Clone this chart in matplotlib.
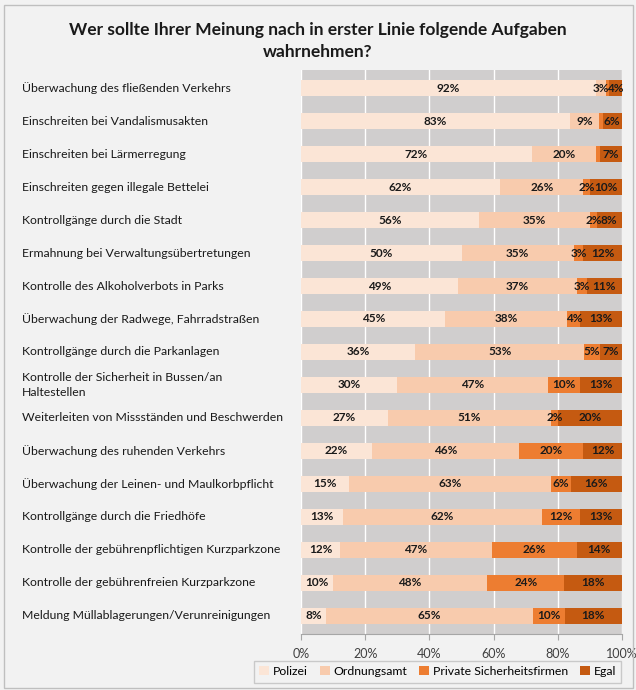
import matplotlib
matplotlib.use("Agg")
import matplotlib.pyplot as plt
import matplotlib.transforms as mtransforms
import numpy as np
from matplotlib.patches import Rectangle

plt.rcParams['font.family'] = ['Lato', 'DejaVu Sans']

categories = [
    "Überwachung des fließenden Verkehrs",
    "Einschreiten bei Vandalismusakten",
    "Einschreiten bei Lärmerregung",
    "Einschreiten gegen illegale Bettelei",
    "Kontrollgänge durch die Stadt",
    "Ermahnung bei Verwaltungsübertretungen",
    "Kontrolle des Alkoholverbots in Parks",
    "Überwachung der Radwege, Fahrradstraßen",
    "Kontrollgänge durch die Parkanlagen",
    "Kontrolle der Sicherheit in Bussen/an\nHaltestellen",
    "Weiterleiten von Missständen und Beschwerden",
    "Überwachung des ruhenden Verkehrs",
    "Überwachung der Leinen- und Maulkorbpflicht",
    "Kontrollgänge durch die Friedhöfe",
    "Kontrolle der gebührenpflichtigen Kurzparkzone",
    "Kontrolle der gebührenfreien Kurzparkzone",
    "Meldung Müllablagerungen/Verunreinigungen",
]
polizei = [92, 83, 72, 62, 56, 50, 49, 45, 36, 30, 27, 22, 15, 13, 12, 10, 8]
ordnungsamt = [3, 9, 20, 26, 35, 35, 37, 38, 53, 47, 51, 46, 63, 62, 47, 48, 65]
private = [1, 1, 1, 2, 2, 3, 3, 4, 5, 10, 2, 20, 6, 12, 26, 24, 10]
egal = [4, 6, 7, 10, 8, 12, 11, 13, 7, 13, 20, 12, 16, 13, 14, 18, 18]

series = [("Polizei", polizei, "#FBE5D6"),
          ("Ordnungsamt", ordnungsamt, "#F8CBAD"),
          ("Private Sicherheitsfirmen", private, "#ED7D31"),
          ("Egal", egal, "#C55A11")]

data = np.array([s[1] for s in series], dtype=float)
shares = data / data.sum(axis=0) * 100   # 100% stacked

fig = plt.figure(figsize=(6.36, 6.9), dpi=100, facecolor="#F2F2F2")
fig.patches.append(Rectangle((0.006, 0.003), 0.99, 0.99, transform=fig.transFigure,
                             fill=False, edgecolor="#BFBFBF", linewidth=1))
ax = fig.add_axes([0.4733, 0.0812, 0.5047, 0.8174])
ax.set_facecolor("#D0CECE")

y = np.arange(len(categories))
left = np.zeros(len(categories))
for (name, vals, color), share in zip(series, shares):
    ax.barh(y, share, left=left, height=0.5, color=color, label=name, zorder=2)
    for yi, l, s, v in zip(y, left, share, vals):
        if v >= 2:
            ax.text(l + s / 2, yi, f"{v}%", ha="center", va="center",
                    fontsize=8.5, fontweight="bold", color="#1a1a1a", zorder=3)
    left += share

ax.set_xlim(0, 100)
ax.set_ylim(len(categories) - 0.45, -0.55)
ax.set_xticks(range(0, 101, 20))
ax.set_xticklabels([f"{t}%" for t in range(0, 101, 20)], fontsize=9, color="#404040")
ax.xaxis.grid(True, color="white", linewidth=1, zorder=1)
ax.set_axisbelow(True)
ax.set_yticks([])
ax.tick_params(axis="x", length=4, color="#A6A6A6", pad=6)
for side in ["top", "right", "left"]:
    ax.spines[side].set_visible(False)
ax.spines["bottom"].set_color("#A6A6A6")

# category labels, left aligned at the figure edge
trans = mtransforms.blended_transform_factory(fig.transFigure, ax.transData)
for yi, cat in zip(y, categories):
    ax.text(22 / 636, yi, cat, transform=trans, ha="left", va="center",
            fontsize=8.8, color="#1a1a1a", linespacing=1.35, clip_on=False)

fig.text(0.5, 0.9406, "Wer sollte Ihrer Meinung nach in erster Linie folgende Aufgaben\nwahrnehmen?",
         ha="center", va="center", fontsize=12.5, fontweight="bold", color="#1a1a1a",
         linespacing=1.45)

leg = fig.legend(loc="lower center", bbox_to_anchor=(0.688, 0.002), ncol=4, fontsize=8.8,
                 frameon=True, fancybox=False, edgecolor="#BFBFBF", facecolor="#F2F2F2",
                 handlelength=0.8, handleheight=0.8, handletextpad=0.3, columnspacing=1.0,
                 borderpad=0.45)
leg.get_frame().set_linewidth(1)

fig.savefig("out.png", dpi=100, facecolor=fig.get_facecolor())
